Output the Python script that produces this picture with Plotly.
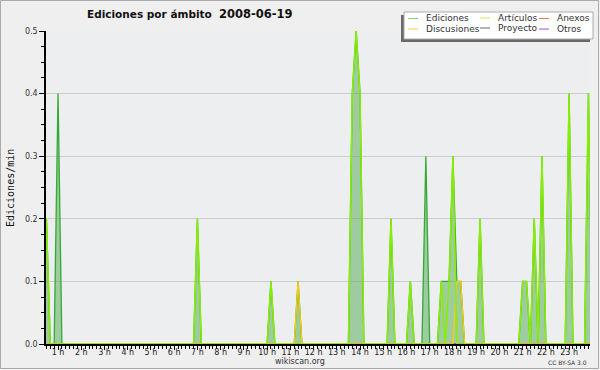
import plotly.graph_objects as go

# ---- data (10-minute bins, minute of day -> edits/min) ----
edic_min = [30, 60, 420, 610, 680, 820, 830, 840, 920, 970, 1010,
            1050, 1060, 1070, 1080, 1090, 1100, 1150, 1260, 1270, 1290, 1310, 1380, 1430]
edic_val = [0.2, 0.4, 0.2, 0.1, 0.1, 0.4, 0.5, 0.4, 0.2, 0.1, 0.3,
            0.1, 0.1, 0.1, 0.3, 0.1, 0.1, 0.2, 0.1, 0.1, 0.2, 0.3, 0.4, 0.4]

art_min = [30, 420, 610, 820, 830, 840, 920, 970,
           1050, 1070, 1080, 1150, 1260, 1270, 1290, 1310, 1380, 1430]
art_val = [0.2, 0.2, 0.1, 0.4, 0.5, 0.4, 0.2, 0.1,
           0.1, 0.1, 0.3, 0.2, 0.1, 0.1, 0.2, 0.3, 0.4, 0.4]

disc_min = [680, 1090, 1100]
disc_val = [0.1, 0.1, 0.1]

anex_min, anex_val = [], []
proy_min, proy_val = [], []
otros_min, otros_val = [], []

hour_ticks = list(range(1, 24))
hour_labels = [f"{h} h" for h in hour_ticks]
y_ticks = [0.0, 0.1, 0.2, 0.3, 0.4, 0.5]
y_labels = ["0.0", "0.1", "0.2", "0.3", "0.4", "0.5"]

series_names = ["Ediciones", "Artículos", "Anexos", "Discusiones", "Proyecto", "Otros"]

# ---- build full 10-minute grids ----
grid = list(range(0, 1441, 10))


def full(mins, vals):
    d = dict(zip(mins, vals))
    return [d.get(m, 0.0) for m in grid]


xs = [m / 60 for m in grid]

# ---- geometry helpers (pixels -> paper) ----
W, H = 600, 370
L, R, T, B = 46, 590, 31, 344


def px(x):
    return (x - L) / (R - L)


def py(y):
    return (B - y) / (B - T)


fig = go.Figure()

fig.add_trace(go.Scatter(x=xs, y=full(edic_min, edic_val), mode="lines",
                         line=dict(color="#33aa33", width=1.3),
                         fill="tozeroy", fillcolor="rgba(70,165,70,0.47)",
                         name=series_names[0], showlegend=False))
fig.add_trace(go.Scatter(x=xs, y=full(anex_min, anex_val), mode="lines",
                         line=dict(color="#ff6633", width=1.2), name=series_names[2], showlegend=False))
fig.add_trace(go.Scatter(x=xs, y=full(proy_min, proy_val), mode="lines",
                         line=dict(color="#555555", width=1.2), name=series_names[4], showlegend=False))
fig.add_trace(go.Scatter(x=xs, y=full(otros_min, otros_val), mode="lines",
                         line=dict(color="#9933ff", width=1.2), name=series_names[5], showlegend=False))
fig.add_trace(go.Scatter(x=xs, y=full(disc_min, disc_val), mode="lines",
                         line=dict(color="#ffcc00", width=1.3), name=series_names[3], showlegend=False))
fig.add_trace(go.Scatter(x=xs, y=full(art_min, art_val), mode="lines",
                         line=dict(color="#88ee00", width=1.5), name=series_names[1], showlegend=False))

shapes = []
annotations = []

# outer border
shapes.append(dict(type="rect", xref="paper", yref="paper",
                   x0=px(0.5), x1=px(W - 1.5), y0=py(H - 1.5), y1=py(0.5),
                   line=dict(color="#aaaaaa", width=1), fillcolor="rgba(0,0,0,0)", layer="below"))

# legend box with shadow
shapes.append(dict(type="rect", xref="paper", yref="paper",
                   x0=px(401), x1=px(590), y0=py(42), y1=py(15),
                   line=dict(width=0), fillcolor="#6a6a6a", layer="above"))
shapes.append(dict(type="rect", xref="paper", yref="paper",
                   x0=px(404), x1=px(593), y0=py(39), y1=py(12),
                   line=dict(color="#aaaaaa", width=1), fillcolor="#ffffff", layer="above"))

legend_items = [
    ("Ediciones", "#88cc88", 408, 424, 18.5),
    ("Discusiones", "#ffcc44", 408, 424, 29),
    ("Artículos", "#ccee55", 480, 496, 18),
    ("Proyecto", "#666666", 480, 496, 28),
    ("Anexos", "#ee7755", 539, 555, 18.5),
    ("Otros", "#9955dd", 539, 555, 29),
]
for name, col, lx, tx, yy in legend_items:
    shapes.append(dict(type="line", xref="paper", yref="paper",
                       x0=px(lx), x1=px(lx + 10), y0=py(yy), y1=py(yy),
                       line=dict(color=col, width=1), layer="above"))
    annotations.append(dict(text=name, xref="paper", yref="paper", x=px(tx), y=py(yy),
                            xanchor="left", yanchor="middle", showarrow=False,
                            font=dict(family="DejaVu Sans", size=9, color="#333333")))

# title
annotations.append(dict(text="<b>Ediciones por ámbito</b>", xref="paper", yref="paper",
                        x=px(85), y=py(14), xanchor="left", yanchor="middle", showarrow=False,
                        font=dict(family="DejaVu Sans", size=10.5, color="#111111")))
annotations.append(dict(text="<b>2008-06-19</b>", xref="paper", yref="paper",
                        x=px(217), y=py(14), xanchor="left", yanchor="middle", showarrow=False,
                        font=dict(family="DejaVu Sans", size=11.5, color="#111111")))
# y title
annotations.append(dict(text="Ediciones/min", xref="paper", yref="paper",
                        x=px(10), y=py(188), xanchor="center", yanchor="middle", showarrow=False,
                        textangle=-90, font=dict(family="DejaVu Sans Mono", size=10, color="#111111")))
# footer
annotations.append(dict(text="wikiscan.org", xref="paper", yref="paper",
                        x=px(300), y=py(361), xanchor="center", yanchor="middle", showarrow=False,
                        font=dict(family="DejaVu Sans", size=8, color="#333333")))
annotations.append(dict(text="CC BY-SA 3.0", xref="paper", yref="paper",
                        x=px(589), y=py(362), xanchor="right", yanchor="middle", showarrow=False,
                        font=dict(family="DejaVu Sans", size=6, color="#333333")))

fig.update_layout(
    width=W, height=H,
    margin=dict(l=L, r=W - R, t=T, b=H - B, pad=0, autoexpand=False),
    paper_bgcolor="#efefef",
    plot_bgcolor="#edeef0",
    showlegend=False,
    shapes=shapes,
    annotations=annotations,
    font=dict(family="DejaVu Sans", size=8, color="#333333"),
)

fig.update_xaxes(range=[0.482, 23.9], tickmode="array", tickvals=hour_ticks, ticktext=hour_labels,
                 automargin=False, ticklabelstandoff=-4,
                 ticks="outside", ticklen=4, tickwidth=1, tickcolor="#000000",
                 showline=True, linecolor="#000000", linewidth=1.5,
                 showgrid=False, zeroline=False,
                 tickfont=dict(family="DejaVu Sans", size=8, color="#222222"),
                 minor=dict(dtick=1 / 6, tick0=0, ticks="outside", ticklen=3, tickcolor="#000000",
                            showgrid=False))
fig.update_yaxes(range=[0, 0.5], tickmode="array", tickvals=y_ticks, ticktext=y_labels,
                 automargin=False,
                 ticks="outside", ticklen=5, tickwidth=1, tickcolor="#000000",
                 showline=True, linecolor="#000000", linewidth=1.5,
                 showgrid=True, gridcolor="#cccccc", gridwidth=1, zeroline=False,
                 tickfont=dict(family="DejaVu Sans", size=8, color="#333333"),
                 minor=dict(dtick=0.025, tick0=0, ticks="outside", ticklen=3, tickcolor="#000000",
                            showgrid=False))

fig.write_html("out.html", config={"displayModeBar": False},
               post_script="document.body.style.margin='0';document.body.style.overflow='hidden';")
